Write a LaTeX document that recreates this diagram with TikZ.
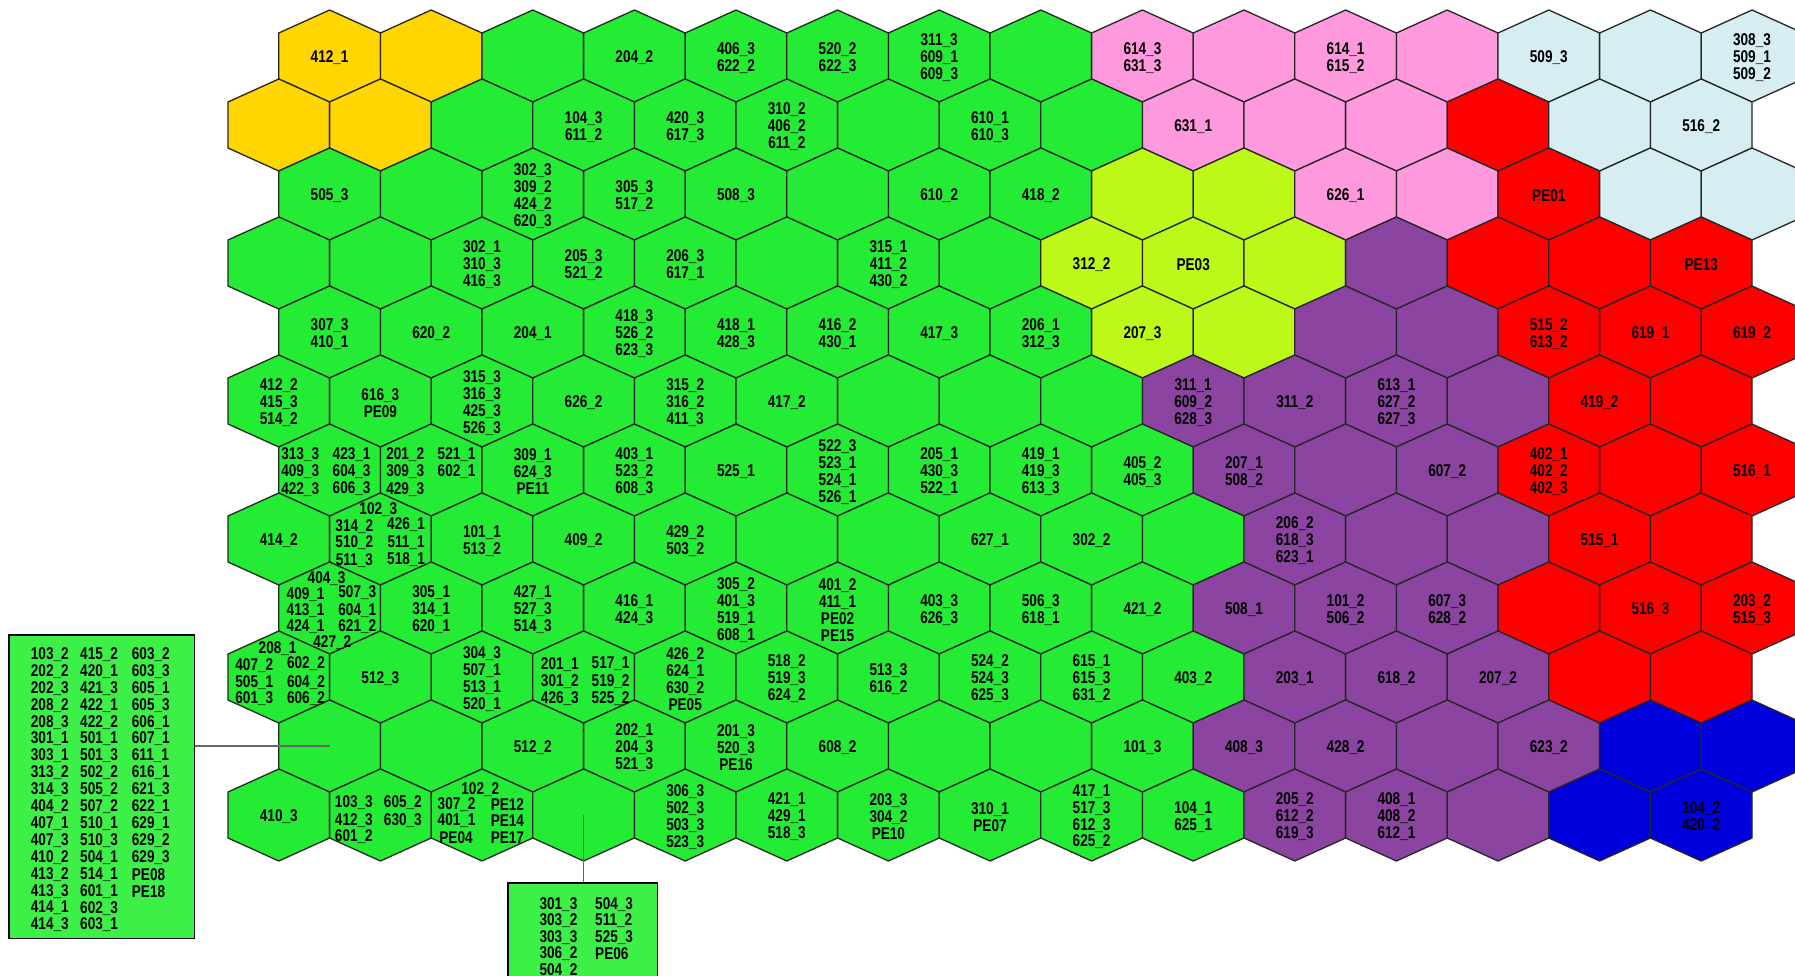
\documentclass[tikz,border=0pt]{standalone}
\usepackage{fontspec}
\newfontfamily\hexf[FakeStretch=0.8]{Liberation Sans}
\definecolor{cY}{RGB}{255,214,0}
\definecolor{cG}{RGB}{36,235,52}
\definecolor{cP}{RGB}{255,153,221}
\definecolor{cB}{RGB}{214,237,242}
\definecolor{cR}{RGB}{255,0,0}
\definecolor{cL}{RGB}{188,248,24}
\definecolor{cV}{RGB}{139,68,160}
\definecolor{cN}{RGB}{0,0,221}
\definecolor{cBox}{RGB}{60,240,72}
\tikzset{
  hexcell/.style={draw=black!85, line width=1.3pt, line join=miter},
  lab/.style={font=\hexf\bfseries\fontsize{17}{16.9}\selectfont, inner sep=0pt, align=center, yshift=-1.8pt},
  labw/.style={font=\hexf\bfseries\fontsize{17}{16.9}\selectfont, inner sep=0pt, anchor=west, yshift=-1.8pt},
  infobox/.style={draw=black, line width=1.6pt, fill=cBox, inner sep=0pt},
  link/.style={draw=black!60, line width=1.1pt},
}
\newcommand\cl[5]{\path (h#1) ++(#2,#3) node[lab] (#4) {#5};}
\begin{document}
\begin{tikzpicture}[x=1pt,y=-1pt]
\useasboundingbox (0,0) rectangle (1795,976);
\clip (0,0) rectangle (1795,976);
\def\cells{%
1/0/cY/{412\_1}, 1/1/cY/{}, 1/2/cG/{}, 1/3/cG/{204\_2}, 1/4/cG/{406\_3\\622\_2}, 1/5/cG/{520\_2\\622\_3}, 1/6/cG/{311\_3\\609\_1\\609\_3}, 1/7/cG/{}, 1/8/cP/{614\_3\\631\_3}, 1/9/cP/{}, 1/10/cP/{614\_1\\615\_2}, 1/11/cP/{}, 1/12/cB/{509\_3}, 1/13/cB/{}, 1/14/cB/{308\_3\\509\_1\\509\_2},
2/0/cY/{}, 2/1/cY/{}, 2/2/cG/{}, 2/3/cG/{104\_3\\611\_2}, 2/4/cG/{420\_3\\617\_3}, 2/5/cG/{310\_2\\406\_2\\611\_2}, 2/6/cG/{}, 2/7/cG/{610\_1\\610\_3}, 2/8/cG/{}, 2/9/cP/{631\_1}, 2/10/cP/{}, 2/11/cP/{}, 2/12/cR/{}, 2/13/cB/{}, 2/14/cB/{516\_2},
3/0/cG/{505\_3}, 3/1/cG/{}, 3/2/cG/{302\_3\\309\_2\\424\_2\\620\_3}, 3/3/cG/{305\_3\\517\_2}, 3/4/cG/{508\_3}, 3/5/cG/{}, 3/6/cG/{610\_2}, 3/7/cG/{418\_2}, 3/8/cL/{}, 3/9/cL/{}, 3/10/cP/{626\_1}, 3/11/cP/{}, 3/12/cR/{PE01}, 3/13/cB/{}, 3/14/cB/{},
4/0/cG/{}, 4/1/cG/{}, 4/2/cG/{302\_1\\310\_3\\416\_3}, 4/3/cG/{205\_3\\521\_2}, 4/4/cG/{206\_3\\617\_1}, 4/5/cG/{}, 4/6/cG/{315\_1\\411\_2\\430\_2}, 4/7/cG/{}, 4/8/cL/{312\_2}, 4/9/cL/{PE03}, 4/10/cL/{}, 4/11/cV/{}, 4/12/cR/{}, 4/13/cR/{}, 4/14/cR/{PE13},
5/0/cG/{307\_3\\410\_1}, 5/1/cG/{620\_2}, 5/2/cG/{204\_1}, 5/3/cG/{418\_3\\526\_2\\623\_3}, 5/4/cG/{418\_1\\428\_3}, 5/5/cG/{416\_2\\430\_1}, 5/6/cG/{417\_3}, 5/7/cG/{206\_1\\312\_3}, 5/8/cL/{207\_3}, 5/9/cL/{}, 5/10/cV/{}, 5/11/cV/{}, 5/12/cR/{515\_2\\613\_2}, 5/13/cR/{619\_1}, 5/14/cR/{619\_2},
6/0/cG/{412\_2\\415\_3\\514\_2}, 6/1/cG/{616\_3\\PE09}, 6/2/cG/{315\_3\\316\_3\\425\_3\\526\_3}, 6/3/cG/{626\_2}, 6/4/cG/{315\_2\\316\_2\\411\_3}, 6/5/cG/{417\_2}, 6/6/cG/{}, 6/7/cG/{}, 6/8/cG/{}, 6/9/cV/{311\_1\\609\_2\\628\_3}, 6/10/cV/{311\_2}, 6/11/cV/{613\_1\\627\_2\\627\_3}, 6/12/cV/{}, 6/13/cR/{419\_2}, 6/14/cR/{},
7/0/cG/{}, 7/1/cG/{}, 7/2/cG/{309\_1\\624\_3\\PE11}, 7/3/cG/{403\_1\\523\_2\\608\_3}, 7/4/cG/{525\_1}, 7/5/cG/{522\_3\\523\_1\\524\_1\\526\_1}, 7/6/cG/{205\_1\\430\_3\\522\_1}, 7/7/cG/{419\_1\\419\_3\\613\_3}, 7/8/cG/{405\_2\\405\_3}, 7/9/cV/{207\_1\\508\_2}, 7/10/cV/{}, 7/11/cV/{607\_2}, 7/12/cR/{402\_1\\402\_2\\402\_3}, 7/13/cR/{}, 7/14/cR/{516\_1},
8/0/cG/{414\_2}, 8/1/cG/{}, 8/2/cG/{101\_1\\513\_2}, 8/3/cG/{409\_2}, 8/4/cG/{429\_2\\503\_2}, 8/5/cG/{}, 8/6/cG/{}, 8/7/cG/{627\_1}, 8/8/cG/{302\_2}, 8/9/cG/{}, 8/10/cV/{206\_2\\618\_3\\623\_1}, 8/11/cV/{}, 8/12/cV/{}, 8/13/cR/{515\_1}, 8/14/cR/{},
9/0/cG/{}, 9/1/cG/{305\_1\\314\_1\\620\_1}, 9/2/cG/{427\_1\\527\_3\\514\_3}, 9/3/cG/{416\_1\\424\_3}, 9/4/cG/{305\_2\\401\_3\\519\_1\\608\_1}, 9/5/cG/{401\_2\\411\_1\\PE02\\PE15}, 9/6/cG/{403\_3\\626\_3}, 9/7/cG/{506\_3\\618\_1}, 9/8/cG/{421\_2}, 9/9/cV/{508\_1}, 9/10/cV/{101\_2\\506\_2}, 9/11/cV/{607\_3\\628\_2}, 9/12/cR/{}, 9/13/cR/{516\_3}, 9/14/cR/{203\_2\\515\_3},
10/0/cG/{}, 10/1/cG/{512\_3}, 10/2/cG/{304\_3\\507\_1\\513\_1\\520\_1}, 10/3/cG/{}, 10/4/cG/{426\_2\\624\_1\\630\_2\\PE05}, 10/5/cG/{518\_2\\519\_3\\624\_2}, 10/6/cG/{513\_3\\616\_2}, 10/7/cG/{524\_2\\524\_3\\625\_3}, 10/8/cG/{615\_1\\615\_3\\631\_2}, 10/9/cG/{403\_2}, 10/10/cV/{203\_1}, 10/11/cV/{618\_2}, 10/12/cV/{207\_2}, 10/13/cR/{}, 10/14/cR/{},
11/0/cG/{}, 11/1/cG/{}, 11/2/cG/{512\_2}, 11/3/cG/{202\_1\\204\_3\\521\_3}, 11/4/cG/{201\_3\\520\_3\\PE16}, 11/5/cG/{608\_2}, 11/6/cG/{}, 11/7/cG/{}, 11/8/cG/{101\_3}, 11/9/cV/{408\_3}, 11/10/cV/{428\_2}, 11/11/cV/{}, 11/12/cV/{623\_2}, 11/13/cN/{}, 11/14/cN/{},
12/0/cG/{410\_3}, 12/1/cG/{}, 12/2/cG/{}, 12/3/cG/{}, 12/4/cG/{306\_3\\502\_3\\503\_3\\523\_3}, 12/5/cG/{421\_1\\429\_1\\518\_3}, 12/6/cG/{203\_3\\304\_2\\PE10}, 12/7/cG/{310\_1\\PE07}, 12/8/cG/{417\_1\\517\_3\\612\_3\\625\_2}, 12/9/cG/{104\_1\\625\_1}, 12/10/cV/{205\_2\\612\_2\\619\_3}, 12/11/cV/{408\_1\\408\_2\\612\_1}, 12/12/cV/{}, 12/13/cN/{}, 12/14/cN/{104\_2\\420\_2}}
% hexagons
\foreach \r/\c/\col/\txt in \cells {
  \pgfmathsetmacro\xx{329.6+101.6*\c-50.8*(1-mod(\r,2))}
  \pgfmathsetmacro\yy{56+69*(\r-1)}
  \filldraw[hexcell, fill=\col] (\xx,\yy) +(0,-46) -- +(50.8,-23) -- +(50.8,23) -- +(0,46) -- +(-50.8,23) -- +(-50.8,-23) -- cycle;
  \coordinate (h\r-\c) at (\xx,\yy);
}
% simple labels
\foreach \r/\c/\col/\txt in \cells {
  \node[lab] (t\r-\c) at (h\r-\c) {\txt};
}
% crowded cells
\cl{7-0}{-29.4}{-16.9}{a1}{313\_3}
\cl{7-0}{-29.4}{0}{a2}{409\_3}
\cl{7-0}{-29.4}{17.3}{a3}{422\_3}
\cl{7-0}{22}{-16.9}{a4}{423\_1}
\cl{7-0}{22}{0}{a5}{604\_3}
\cl{7-0}{22}{16.9}{a6}{606\_3}
\cl{7-1}{-26}{-16.9}{b1}{201\_2}
\cl{7-1}{-26}{0}{b2}{309\_3}
\cl{7-1}{-26}{17.3}{b3}{429\_3}
\cl{7-1}{25.4}{-16.9}{b4}{521\_1}
\cl{7-1}{25.4}{0}{b5}{602\_1}
\cl{8-1}{-2}{-30.8}{c1}{102\_3}
\cl{8-1}{-26}{-14.5}{c2}{314\_2}
\cl{8-1}{-26}{1.4}{c3}{510\_2}
\cl{8-1}{-26}{19.3}{c4}{511\_3}
\cl{8-1}{25.7}{-16.6}{c5}{426\_1}
\cl{8-1}{25.7}{1.4}{c6}{511\_1}
\cl{8-1}{25.7}{18.3}{c7}{518\_1}
\cl{9-0}{-3}{-31}{d1}{404\_3}
\cl{9-0}{-24}{-15.3}{d2}{409\_1}
\cl{9-0}{27.7}{-17}{d3}{507\_3}
\cl{9-0}{-24}{0.3}{d4}{413\_1}
\cl{9-0}{27.7}{0.3}{d5}{604\_1}
\cl{9-0}{-24}{16.3}{d6}{424\_1}
\cl{9-0}{27.7}{16.3}{d7}{621\_2}
\cl{9-0}{2.7}{33}{d8}{427\_2}
\cl{10-0}{-1.2}{-30.4}{e1}{208\_1}
\cl{10-0}{-24.5}{-13.5}{e2}{407\_2}
\cl{10-0}{27.2}{-15.2}{e3}{602\_2}
\cl{10-0}{-24.5}{3.4}{e4}{505\_1}
\cl{10-0}{27.2}{3.4}{e5}{604\_2}
\cl{10-0}{-24.5}{19.6}{e6}{601\_3}
\cl{10-0}{27.2}{19.6}{e7}{606\_2}
\cl{10-3}{-23.7}{-14.2}{f1}{201\_1}
\cl{10-3}{-23.7}{2.7}{f2}{301\_2}
\cl{10-3}{-23.7}{19.6}{f3}{426\_3}
\cl{10-3}{27}{-15.2}{f4}{517\_1}
\cl{10-3}{27}{2.7}{f5}{519\_2}
\cl{10-3}{27}{19.6}{f6}{525\_2}
\cl{12-1}{-26.5}{-13.9}{g1}{103\_3}
\cl{12-1}{-26.5}{4}{g2}{412\_3}
\cl{12-1}{-26.5}{20}{g3}{601\_2}
\cl{12-1}{22.5}{-13.9}{g4}{605\_2}
\cl{12-1}{22.5}{4}{g5}{630\_3}
\cl{12-2}{-1.7}{-27.4}{k1}{102\_2}
\cl{12-2}{-25.4}{-12.2}{k2}{307\_2}
\cl{12-2}{-25.4}{4}{k3}{401\_1}
\cl{12-2}{-26}{21}{k4}{PE04}
\cl{12-2}{25.4}{-12.2}{k5}{PE12}
\cl{12-2}{25.4}{4}{k6}{PE14}
\cl{12-2}{25.4}{20.5}{k7}{PE17}
% left box
\node[infobox, minimum width=185.3pt, minimum height=303.3pt] (lbox) at (101.65,786.65) {};
\foreach \t [count=\i from 0] in {103\_2,202\_2,202\_3,208\_2,208\_3,301\_1,303\_1,313\_2,314\_3,404\_2,407\_1,407\_3,410\_2,413\_2,413\_3,414\_1,414\_3}
  \node[labw] (la\i) at (30.7,{652.7+16.91*\i}) {\t};
\foreach \t [count=\i from 0] in {415\_2,420\_1,421\_3,422\_1,422\_2,501\_1,501\_3,502\_2,505\_2,507\_2,510\_1,510\_3,504\_1,514\_1,601\_1,602\_3,603\_1}
  \node[labw] (lb\i) at (80,{652.7+16.91*\i}) {\t};
\foreach \t [count=\i from 0] in {603\_2,603\_3,605\_1,605\_3,606\_1,607\_1,611\_1,616\_1,621\_3,622\_1,629\_1,629\_2,629\_3,PE08,PE18}
  \node[labw] (lc\i) at (131.7,{652.7+16.91*\i}) {\t};
\draw[link] (h11-0) -- (h11-0 -| lbox.east);
% bottom box
\node[infobox, minimum width=149.4pt, minimum height=115pt, anchor=north west] (bbox) at (507.3,882.3) {};
\foreach \t [count=\i from 0] in {301\_3,303\_2,303\_3,306\_2,504\_2}
  \node[labw] (ba\i) at (539.3,{902.5+16.5*\i}) {\t};
\foreach \t [count=\i from 0] in {504\_3,511\_2,525\_3,PE06}
  \node[labw] (bb\i) at (595,{902.5+16.5*\i}) {\t};
\draw[link] (h12-3) -- (h12-3 |- bbox.north);
\end{tikzpicture}
\end{document}
